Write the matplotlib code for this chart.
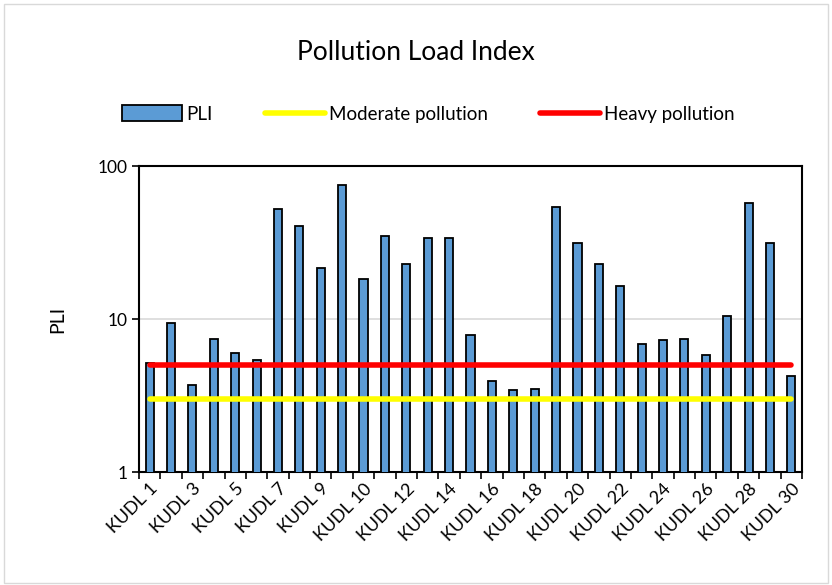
import numpy as np
import matplotlib
matplotlib.use("Agg")
import matplotlib.pyplot as plt
from matplotlib.patches import Rectangle
from matplotlib.ticker import FixedLocator, NullFormatter, NullLocator

plt.rcParams['font.family'] = ['Lato', 'DejaVu Sans']

sites = ["KUDL 1", "KUDL 2", "KUDL 3", "KUDL 4", "KUDL 5", "KUDL 6", "KUDL 7",
         "KUDL 8", "KUDL 9", "KUDL 9A"] + ["KUDL %d" % i for i in range(10, 31)]
pli = [5.2, 9.4, 3.7, 7.4, 6.0, 5.4, 52.6, 40.9, 21.7, 74.8,
       18.2, 35.1, 22.9, 33.9, 33.9, 7.9, 3.95, 3.44, 3.5, 53.7,
       31.4, 22.9, 16.5, 6.9, 7.3, 7.4, 5.8, 10.5, 57.0, 31.4, 4.24]
moderate = 3.0
heavy = 5.0

fig = plt.figure(figsize=(8.32, 5.85), dpi=100)
ax = fig.add_axes([0.167, 0.193, 0.797, 0.523])

x = np.arange(len(sites))
bars = ax.bar(x, pli, width=0.38, color="#5B9BD5", edgecolor="black", linewidth=1.3,
              label="PLI", zorder=3)
l1, = ax.plot(x, [moderate] * len(x), color="#FFFF00", lw=4, solid_capstyle="round",
              label="Moderate pollution", zorder=4)
l2, = ax.plot(x, [heavy] * len(x), color="#FF0000", lw=4, solid_capstyle="round",
              label="Heavy pollution", zorder=4)

ax.set_yscale("log")
ax.set_ylim(1, 100)
ax.set_xlim(-0.5, len(sites) - 0.5)
ax.yaxis.set_major_locator(FixedLocator([1, 10, 100]))
ax.yaxis.set_minor_locator(NullLocator())
ax.set_yticklabels(["1", "10", "100"], fontsize=12.5)
ax.grid(axis="y", which="major", color="#D9D9D9", lw=1.2, zorder=0)

ax.set_xticks(x[::2])
ax.set_xticklabels(sites[::2], rotation=45, ha="right", rotation_mode="anchor",
                   fontsize=13)
ax.tick_params(axis="x", which="major", length=0, pad=6)
ax.set_xticks(np.arange(-0.5, len(sites)), minor=True)
ax.xaxis.set_minor_formatter(NullFormatter())
ax.tick_params(axis="x", which="minor", length=5, width=1.2)
ax.tick_params(axis="y", which="major", length=5, width=1.2)

for s in ax.spines.values():
    s.set_linewidth(1.5)

ax.set_ylabel("PLI", fontsize=14)
ax.yaxis.set_label_coords(-0.11, 0.5)

fig.text(0.5, 0.91, "Pollution Load Index", ha="center", va="center", fontsize=19)
fig.legend(handles=[bars, l1, l2], loc="center", bbox_to_anchor=(0.515, 0.805),
           ncol=3, frameon=False, fontsize=13.5, handlelength=3.2, handleheight=0.9,
           columnspacing=2.8, handletextpad=0.2)

fig.patches.append(Rectangle((0.005, 0.004), 0.99, 0.99, transform=fig.transFigure,
                             fill=False, edgecolor="#D9D9D9", lw=1))

fig.savefig("out.png", dpi=100)
